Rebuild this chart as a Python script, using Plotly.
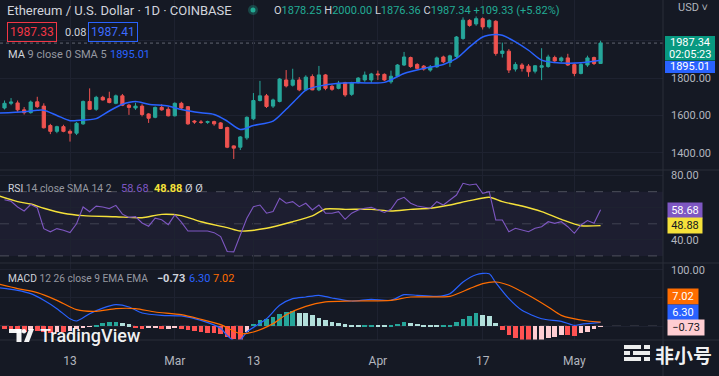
import pandas as pd
import plotly.graph_objects as go

# ---------------- data ----------------
base = pd.Timestamp("2023-02-03")
dates = pd.date_range(base, periods=92, freq="D")

opens = [1640, 1665, 1667, 1630, 1615, 1673, 1650, 1546, 1515, 1540,
         1515, 1505, 1555, 1675, 1633, 1697, 1690, 1665, 1705, 1655,
         1640, 1650, 1608, 1590, 1643, 1633, 1598, 1665, 1647, 1570,
         1565, 1563, 1567, 1560, 1535, 1437, 1430, 1480, 1582, 1680,
         1705, 1650, 1675, 1790, 1762, 1790, 1737, 1808, 1737, 1817,
         1756, 1745, 1775, 1713, 1775, 1790, 1790, 1822, 1820, 1780,
         1810, 1870, 1910, 1873, 1864, 1843, 1860, 1913, 1884, 1916,
         2012, 2109, 2090, 2118, 2074, 2104, 1932, 1944, 1848, 1870,
         1864, 1837, 1858, 1862, 1910, 1893, 1908, 1872, 1825, 1870,
         1910, 1878.25]
highs = [1680, 1693, 1680, 1645, 1680, 1700, 1665, 1555, 1545, 1550,
         1525, 1565, 1680, 1745, 1705, 1705, 1727, 1712, 1715, 1662,
         1668, 1660, 1612, 1648, 1660, 1645, 1670, 1673, 1650, 1575,
         1575, 1572, 1572, 1565, 1540, 1440, 1490, 1595, 1720, 1785,
         1715, 1690, 1800, 1843, 1850, 1805, 1815, 1820, 1865, 1822,
         1765, 1785, 1780, 1780, 1805, 1835, 1828, 1840, 1825, 1840,
         1875, 1940, 1915, 1880, 1870, 1870, 1915, 1920, 1925, 2025,
         2125, 2115, 2130, 2125, 2115, 2110, 1990, 1955, 1885, 1880,
         1875, 1870, 1960, 1925, 1920, 1915, 1930, 1880, 1880, 1920,
         1915, 2000.00]
lows = [1632, 1655, 1620, 1605, 1610, 1640, 1530, 1500, 1505, 1510,
        1460, 1495, 1550, 1630, 1625, 1680, 1665, 1660, 1650, 1603,
        1630, 1595, 1560, 1585, 1625, 1595, 1595, 1630, 1550, 1555,
        1555, 1555, 1545, 1528, 1425, 1367, 1415, 1470, 1575, 1675,
        1640, 1640, 1670, 1750, 1755, 1730, 1730, 1735, 1730, 1735,
        1732, 1740, 1700, 1705, 1772, 1780, 1775, 1790, 1785, 1770,
        1805, 1865, 1855, 1850, 1840, 1834, 1855, 1880, 1860, 1905,
        2005, 2075, 2080, 2060, 2065, 1920, 1910, 1827, 1835, 1835,
        1807, 1825, 1789, 1855, 1880, 1885, 1865, 1810, 1820, 1860,
        1870, 1876.36]
closes = [1665, 1672, 1630, 1615, 1672, 1647, 1534, 1515, 1540, 1515,
          1505, 1558, 1675, 1633, 1697, 1683, 1669, 1705, 1655, 1643,
          1650, 1605, 1585, 1643, 1630, 1598, 1665, 1640, 1555, 1565,
          1563, 1567, 1555, 1530, 1430, 1425, 1485, 1590, 1680, 1705,
          1648, 1683, 1795, 1758, 1790, 1737, 1805, 1737, 1817, 1745,
          1740, 1772, 1710, 1775, 1800, 1816, 1822, 1818, 1790, 1810,
          1870, 1913, 1862, 1852, 1848, 1860, 1908, 1887, 1919, 2020,
          2110, 2082, 2118, 2074, 2109, 1932, 1945, 1843, 1873, 1852,
          1834, 1866, 1866, 1913, 1892, 1908, 1870, 1825, 1873, 1908,
          1878, 1987.34]

# MA 9 (SMA 5 smoothing) line, sampled (day offset from Feb 3, value)
ma_days = [-1, 3, 5, 6, 8, 10, 11, 14, 16, 18, 20, 22, 25, 27, 30, 32, 34, 36, 38, 41,
           43, 45, 46, 48, 51, 54, 58, 61, 64, 67, 69, 71, 73, 75, 76, 78, 80, 82, 84, 86, 88, 91]
ma_vals = [1612, 1620, 1628, 1628, 1600, 1572, 1573, 1583, 1624, 1660, 1675, 1660, 1650, 1632,
           1614, 1605, 1570, 1525, 1546, 1570, 1633, 1703, 1736, 1757, 1772, 1775, 1777, 1825,
           1852, 1873, 1905, 1967, 2020, 2033, 2029, 1994, 1949, 1896, 1883, 1880, 1882, 1895.01]

# RSI 14 (one value per day)
rsi_vals = [65, 64, 60.5, 58, 62, 60, 47, 45, 47, 46,
            44.5, 50, 60.5, 57.5, 61, 60.5, 59.5, 61.5, 56, 54,
            54.5, 50.5, 48.5, 53.5, 52.5, 49.5, 55.5, 51, 45.5, 45.5,
            45.3, 45.5, 44.5, 42, 32.7, 32.5, 43, 53.4, 60.7, 61.7,
            56.6, 57.6, 65.9, 62.8, 63.8, 60.7, 62.8, 58.6, 61.7, 56.6,
            56.6, 57.6, 52.8, 56.6, 58.6, 59.7, 60.3, 58.6, 57.1, 59,
            64.8, 66.5, 62.8, 61.1, 60.3, 59.7, 63.8, 61.7, 64.8, 67.9,
            75.2, 74.2, 74.8, 69, 70, 52.4, 52.4, 45.1, 47.2, 46.2,
            45.1, 47.2, 48.2, 51.3, 50.3, 51.3, 48.2, 44.1, 49.3, 52,
            50.3, 58.68]

# RSI-based SMA 14, sampled
rsima_days = [-1, 2, 4, 6, 9, 12, 17, 21, 24, 27, 30, 34, 36, 40, 44, 47, 49, 52, 56, 59,
              62, 65, 68, 71, 74, 76, 79, 82, 85, 88, 91]
rsima_vals = [67.5, 63.8, 62.3, 59.7, 56.6, 55.1, 54.4, 53.8, 55.9, 55.1, 51.3, 47.6, 45.5,
              47.2, 51.3, 54.9, 59.2, 59, 59, 58, 59, 59.7, 61.7, 64.4, 66.5, 63.8, 61.1,
              57.6, 52.8, 48.8, 48.88]

# MACD 12 26 9, sampled
macd_days = [-1, 2, 4, 6, 8, 10, 11, 13, 15, 17, 19, 21, 24, 27, 30, 33, 34, 35, 36, 37,
             40, 42, 44, 46, 48, 50, 53, 56, 59, 61, 63, 66, 68, 70, 72, 74, 75, 77, 79,
             82, 85, 87, 88, 91]
macd_vals = [68.5, 63.7, 57.7, 45.9, 31, 13, 8.9, 22, 32, 38, 34, 23.2, 19, 17.9, 10.1, -4,
             -17, -26, -25, -10.7, 13, 36.9, 48.8, 51.8, 54.8, 50, 44.6, 47.6, 45.8, 55.9,
             54.8, 53, 57.7, 78.6, 91.6, 93.4, 77.3, 48.8, 28, 13, 8.3, 1.2, 3, 6.30]

signal_days = [-1, 2, 5, 8, 11, 14, 17, 20, 23, 27, 30, 33, 36, 38, 41, 43, 46, 49, 53, 59,
               62, 68, 71, 73, 75, 77, 80, 83, 85, 89, 91]
signal_vals = [75, 66.7, 59.5, 45.8, 29.2, 26.2, 31, 31, 25, 20.2, 11.9, 2.4, -13.7, -10.7,
               4.2, 20.2, 35.1, 42.9, 44.6, 45.8, 51.8, 53, 66.7, 75.6, 78.6, 72.7, 54.8,
               34, 19, 8.9, 7.02]

hist_vals = [-6, -8, -9, -10, -8, -9, -11, -12, -10, -11,
             -9, -6, -4, -1, 2, 5, 7, 8, 6, 3,
             -3, -5, -4, -3, -6, -5, -3, -5, -8, -9,
             -11, -12, -13, -15, -19, -23, -25, -11, 4, 10,
             13, 16, 21, 25, 27, 24, 23, 19, 15, 11,
             8, 5, 3, 1, 0.5, 1, 1.5, 1, 0.5, 1.5,
             4, 7, 6, 4, 2, 1, 0.5, 1, 2, 8,
             12, 18, 23, 20, 17, 5, -8, -16, -22, -25,
             -30, -28, -25, -22, -19, -16, -16, -18, -13, -10,
             -5, -0.73]

tick_dates = ["2023-02-13", "2023-03-01", "2023-03-13", "2023-04-01", "2023-04-17", "2023-05-01"]
tick_text = ["13", "Mar", "13", "Apr", "17", "May"]

# ---------------- styling helpers ----------------
W = 663.0   # plot width in px
PH = 340.0  # plot height in px
FONT = "Roboto, 'Liberation Sans', sans-serif"
BG = "#151924"
GRID = "#1e2230"
TXT = "#b2b5be"


def day(i):
    return base + pd.Timedelta(days=i)


def px(x):
    return x / W


def py(y):
    return (PH - y) / PH


def ann(text, x, y, size=12, color="#d1d4dc", xanchor="left", family=FONT, **kw):
    return dict(text=text, x=px(x), y=py(y), xref="paper", yref="paper",
                xanchor=xanchor, yanchor="middle", showarrow=False,
                font=dict(size=size, color=color, family=family), **kw)


def box(x0, x1, y0, y1, color):
    return dict(type="rect", xref="paper", yref="paper", x0=px(x0), x1=px(x1),
                y0=py(y1), y1=py(y0), fillcolor=color, line=dict(width=0), layer="above")


hist_colors = []
for i, v in enumerate(hist_vals):
    prev = hist_vals[i - 1] if i > 0 else v
    if v >= 0:
        hist_colors.append("#26a69a" if v >= prev else "#b2dfdb")
    else:
        hist_colors.append("#ffcdd2" if v > prev else "#ff5252")

fig = go.Figure()

# MACD histogram
fig.add_trace(go.Bar(x=dates, y=hist_vals, marker=dict(color=hist_colors, line=dict(width=0)),
                     width=0.72 * 86400000, yaxis="y3", xaxis="x", showlegend=False,
                     hoverinfo="skip"))
fig.add_trace(go.Scatter(x=[day(i) for i in macd_days], y=macd_vals, mode="lines",
                         line=dict(color="#2962ff", width=1.2, shape="spline", smoothing=0.7),
                         yaxis="y3", showlegend=False, hoverinfo="skip"))
fig.add_trace(go.Scatter(x=[day(i) for i in signal_days], y=signal_vals, mode="lines",
                         line=dict(color="#ff6d00", width=1.2, shape="spline", smoothing=0.7),
                         yaxis="y3", showlegend=False, hoverinfo="skip"))

# RSI
fig.add_trace(go.Scatter(x=[day(i) for i in rsima_days], y=rsima_vals, mode="lines",
                         line=dict(color="#f5e13a", width=1.4, shape="spline", smoothing=0.7),
                         yaxis="y2", showlegend=False, hoverinfo="skip"))
fig.add_trace(go.Scatter(x=dates, y=rsi_vals, mode="lines",
                         line=dict(color="#7e57c2", width=1.1),
                         yaxis="y2", showlegend=False, hoverinfo="skip"))

# Candles + MA
fig.add_trace(go.Candlestick(x=dates, open=opens, high=highs, low=lows, close=closes,
                             increasing=dict(line=dict(color="#26a69a", width=1), fillcolor="#26a69a"),
                             decreasing=dict(line=dict(color="#ef5350", width=1), fillcolor="#ef5350"),
                             whiskerwidth=0, yaxis="y", xaxis="x", showlegend=False,
                             hoverinfo="skip"))
fig.add_trace(go.Scatter(x=[day(i) for i in ma_days], y=ma_vals, mode="lines",
                         line=dict(color="#2962ff", width=1.5, shape="spline", smoothing=0.8),
                         yaxis="y", showlegend=False, hoverinfo="skip"))

x_start = base + pd.Timedelta(days=-0.687)
x_end = base + pd.Timedelta(days=100.53)

yax_common = dict(side="right", anchor="x", showgrid=True, gridcolor=GRID, gridwidth=1,
                  zeroline=False, showline=False, ticks="", tickformat=".2f",
                  tickfont=dict(size=11, color=TXT, family=FONT), ticklabelstandoff=7,
                  fixedrange=True)

fig.update_layout(
    width=719, height=376,
    margin=dict(l=0, r=56, t=0, b=36),
    paper_bgcolor=BG, plot_bgcolor=BG,
    font=dict(family=FONT, color=TXT),
    hovermode=False, dragmode=False, showlegend=False,
    bargap=0,
    xaxis=dict(type="date", range=[x_start, x_end], domain=[0, 1], anchor="y3",
               tickvals=tick_dates, ticktext=tick_text, showgrid=True, gridcolor=GRID,
               gridwidth=1, zeroline=False, showline=False, ticks="",
               tickfont=dict(size=12, color=TXT, family=FONT), ticklabelstandoff=12,
               rangeslider=dict(visible=False), fixedrange=True),
    yaxis=dict(domain=[0.5, 1], range=[1308, 2218],
               tickvals=[1400, 1600, 1800, 2000],
               ticktext=["1400.00", "1600.00", "1800.00", ""], **yax_common),
    yaxis2=dict(domain=[0.2265, 0.5], range=[25.6, 83.5],
                tickvals=[40, 60, 80], ticktext=["40.00", "", "80.00"], **yax_common),
    yaxis3=dict(domain=[0, 0.2265], range=[-25, 112.5],
                tickvals=[0, 50, 100], ticktext=["", "", "100.00"], **yax_common),
)

SEP = "#2a2e39"
shapes = [
    # RSI background band and dashed levels
    dict(type="rect", xref="paper", yref="y2", x0=0, x1=1, y0=30, y1=70,
         fillcolor="rgba(126,87,194,0.08)", line=dict(width=0), layer="below"),
    dict(type="line", xref="paper", yref="y2", x0=0, x1=1, y0=70, y1=70,
         line=dict(color="rgba(120,123,134,0.55)", width=1, dash="dash"), layer="below"),
    dict(type="line", xref="paper", yref="y2", x0=0, x1=1, y0=50, y1=50,
         line=dict(color="rgba(120,123,134,0.4)", width=1, dash="dash"), layer="below"),
    dict(type="line", xref="paper", yref="y2", x0=0, x1=1, y0=30, y1=30,
         line=dict(color="rgba(120,123,134,0.55)", width=1, dash="dash"), layer="below"),
    # MACD zero line
    dict(type="line", xref="paper", yref="y3", x0=0, x1=1, y0=0, y1=0,
         line=dict(color="rgba(120,123,134,0.45)", width=1, dash="dash"), layer="below"),
    # current price line
    dict(type="line", xref="paper", yref="y", x0=0, x1=1, y0=1987.34, y1=1987.34,
         line=dict(color="rgba(150,153,163,0.6)", width=1, dash="dot"), layer="below"),
    # pane separators
    dict(type="line", xref="paper", yref="paper", x0=0, x1=719 / W, y0=py(170), y1=py(170),
         line=dict(color=SEP, width=1)),
    dict(type="line", xref="paper", yref="paper", x0=0, x1=719 / W, y0=py(263), y1=py(263),
         line=dict(color=SEP, width=1)),
    dict(type="line", xref="paper", yref="paper", x0=0, x1=719 / W, y0=0, y1=0,
         line=dict(color=SEP, width=1)),
    dict(type="line", xref="paper", yref="paper", x0=1, x1=1, y0=py(376), y1=1,
         line=dict(color=SEP, width=1)),
    # live dot
    dict(type="circle", xref="paper", yref="paper", x0=px(248), x1=px(258), y0=py(15), y1=py(5),
         fillcolor="rgba(34,171,148,0.3)", line=dict(width=0)),
    dict(type="circle", xref="paper", yref="paper", x0=px(250.5), x1=px(255.5), y0=py(12.5), y1=py(7.5),
         fillcolor="#22ab94", line=dict(width=0)),
    # price-scale label backgrounds
    box(665, 715, 36, 60.5, "#089981"),
    box(665, 715, 61, 73, "#2962ff"),
]

# TradingView logo icon
WHITE = "rgba(255,255,255,0.95)"
shapes += [
    dict(type="rect", xref="paper", yref="paper", x0=px(9), x1=px(21.5), y0=py(333), y1=py(329),
         fillcolor=WHITE, line=dict(width=0)),
    dict(type="rect", xref="paper", yref="paper", x0=px(16.5), x1=px(21.5), y0=py(342), y1=py(329),
         fillcolor=WHITE, line=dict(width=0)),
    dict(type="circle", xref="paper", yref="paper", x0=px(21.8), x1=px(26.2), y0=py(333.4), y1=py(329),
         fillcolor=WHITE, line=dict(width=0)),
    dict(type="path", xref="paper", yref="paper",
         path="M %f,%f L %f,%f L %f,%f L %f,%f Z" % (px(24), py(342), px(29), py(342),
                                                      px(34), py(329), px(29), py(329)),
         fillcolor=WHITE, line=dict(width=0)),
]

# 非小号 icon
for (x0, x1, y0, y1) in [(624, 641, 345, 349), (644, 650, 345, 349),
                         (624, 630, 351, 355), (633, 650, 351, 355),
                         (624, 641, 357, 361), (644, 650, 357, 361)]:
    shapes.append(dict(type="rect", xref="paper", yref="paper", x0=px(x0), x1=px(x1),
                       y0=py(y1), y1=py(y0), fillcolor="rgba(255,255,255,0.92)",
                       line=dict(width=0)))

fig.update_layout(shapes=shapes)

G = "#22ab94"
annotations = [
    ann("Ethereum / U.S. Dollar · 1D · COINBASE", 5, 10, size=13, color="#d1d4dc"),
    ann('O<span style="color:%s">1878.25</span> H<span style="color:%s">2000.00</span> '
        'L<span style="color:%s">1876.36</span> C<span style="color:%s">1987.34</span> '
        '<span style="color:%s">+109.33 (+5.82%%)</span>' % (G, G, G, G, G),
        272, 10, size=11, color="#d1d4dc"),
    ann("1987.33", 6.5, 32, size=12, color="#f23645", bordercolor="#f23645",
        borderwidth=1, borderpad=2),
    ann("0.08", 63, 32, size=11, color="#d1d4dc"),
    ann("1987.41", 88, 32, size=12, color="#3d6bff", bordercolor="#2962ff",
        borderwidth=1, borderpad=2),
    ann('<span style="color:#d1d4dc">MA</span> 9 close 0 SMA 5', 6, 55, size=11, color="#9598a1"),
    ann("1895.01", 108, 55, size=11, color="#2962ff"),
    ann('<span style="color:#d1d4dc">RSI</span> 14 close SMA 14 2', 6, 188, size=10.3, color="#9598a1"),
    ann("58.68", 119, 188, size=11, color="#7e57c2"),
    ann("<b>48.88</b>", 152, 188, size=11, color="#f5e13a"),
    ann("Ø Ø", 183, 188, size=11, color="#d1d4dc"),
    ann('<span style="color:#d1d4dc">MACD</span> 12 26 close 9 EMA EMA', 6, 278, size=10.2, color="#9598a1"),
    ann("<b>−0.73</b>", 155, 278, size=11, color="#d1d4dc"),
    ann("6.30", 187, 278, size=11, color="#2962ff"),
    ann("7.02", 211, 278, size=11, color="#ff6d00"),
    # right-side price scale labels
    ann("USD ˅", 676, 7, size=11, color=TXT),
    ann("1987.34", 690, 42.5, size=11, color="#ffffff", xanchor="center"),
    ann("02:05:23", 690, 54, size=11, color="#ffffff", xanchor="center"),
    ann("1895.01", 690, 67, size=11, color="#ffffff", xanchor="center"),
    ann("58.68", 666.5, 210, size=11, color="#ffffff", bgcolor="#7e57c2", width=32, borderpad=1),
    ann("48.88", 666.5, 225, size=11, color="#131722", bgcolor="#f5e13a", width=32, borderpad=1),
    ann("7.02", 666.5, 296.5, size=11, color="#ffffff", bgcolor="#ff6d00", width=28, borderpad=1),
    ann("6.30", 666.5, 312, size=11, color="#ffffff", bgcolor="#2962ff", width=28, borderpad=1),
    ann("−0.73", 666.5, 327, size=11, color="#131722", bgcolor="#ffcdd2", width=34, borderpad=1),
    # watermarks
    dict(text="TradingView", x=px(38), y=py(335.5), xref="paper", yref="paper",
         xanchor="left", yanchor="middle", showarrow=False,
         font=dict(size=18, color="rgba(255,255,255,0.95)", family=FONT, weight=500)),
    dict(text="非小号", x=px(653), y=py(354), xref="paper", yref="paper",
         xanchor="left", yanchor="middle", showarrow=False,
         font=dict(size=19, color="rgba(255,255,255,0.95)", family="Noto Sans CJK SC", weight=700)),
]
fig.update_layout(annotations=annotations)

fig.write_html("out.html", config={"displayModeBar": False},
               post_script="document.body.style.margin='0px';document.body.style.overflow='hidden';")
